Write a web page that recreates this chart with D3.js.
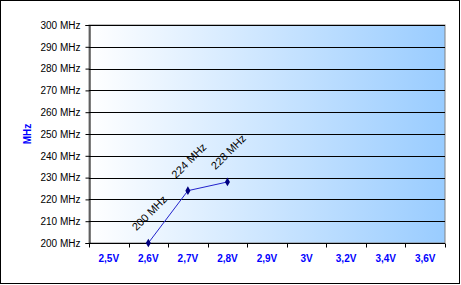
<!DOCTYPE html>
<html>
<head>
<meta charset="utf-8">
<script src="https://cdn.jsdelivr.net/npm/d3@7"></script>
<style>
  body { margin: 0; background: #fff; }
  svg { display: block; font-family: "Liberation Sans", Arial, sans-serif; }
</style>
</head>
<body>
<div id="chart"></div>
<script>
var width = 461,
  height = 285;

// data
var voltages = ["2,5V", "2,6V", "2,7V", "2,8V", "2,9V", "3V", "3,2V", "3,4V", "3,6V"];
var pointVolts = ["2,6V", "2,7V", "2,8V"];
var pointMHz = [200, 224, 228];
var yTicks = [200, 210, 220, 230, 240, 250, 260, 270, 280, 290, 300];

var plot = { left: 89, right: 445, top: 25, bottom: 243 };

var svg = d3.select("#chart").append("svg")
  .attr("width", width)
  .attr("height", height);

// outer frame
svg.append("rect")
  .attr("x", 0.5).attr("y", 0.5)
  .attr("width", 459).attr("height", 283)
  .attr("fill", "#fff")
  .attr("stroke", "#000")
  .attr("stroke-width", 1);

// gradient for plot area
var grad = svg.append("defs").append("linearGradient")
  .attr("id", "bg")
  .attr("x1", "0%").attr("x2", "100%")
  .attr("y1", "0%").attr("y2", "0%");
grad.append("stop").attr("offset", "0%").attr("stop-color", "#ffffff");
grad.append("stop").attr("offset", "100%").attr("stop-color", "#99ccff");

// scales
var x = d3.scaleBand()
  .domain(voltages)
  .range([plot.left, plot.right])
  .padding(0);

var y = d3.scaleLinear()
  .domain([200, 300])
  .range([plot.bottom, plot.top]);

// plot background
svg.append("rect")
  .attr("x", plot.left).attr("y", plot.top)
  .attr("width", plot.right - plot.left)
  .attr("height", plot.bottom - plot.top)
  .attr("fill", "url(#bg)")
  .attr("stroke", "#808080")
  .attr("stroke-width", 1);

// gridlines
svg.append("g")
  .selectAll("line")
  .data(yTicks)
  .enter()
  .append("line")
  .attr("x1", plot.left)
  .attr("x2", plot.right)
  .attr("y1", function (d) { return Math.round(y(d)) + 0.5; })
  .attr("y2", function (d) { return Math.round(y(d)) + 0.5; })
  .attr("stroke", "#000")
  .attr("stroke-width", 1);

// y axis
var yAxis = svg.append("g")
  .attr("transform", "translate(" + (plot.left + 0.5) + ",0)")
  .call(d3.axisLeft(y)
    .tickValues(yTicks)
    .tickSize(4)
    .tickPadding(5)
    .tickFormat(function (d) { return d + " MHz"; }));
yAxis.selectAll("text")
  .attr("font-size", "10px")
  .attr("font-family", "'Liberation Sans', Arial, sans-serif")
  .attr("fill", "#000");
yAxis.selectAll("line, path").attr("stroke", "#000");

// x axis: labels centered in each band, ticks at band edges
var xAxis = svg.append("g")
  .attr("transform", "translate(0," + (plot.bottom + 0.5) + ")");
xAxis.append("line")
  .attr("x1", plot.left).attr("x2", plot.right)
  .attr("stroke", "#000");
xAxis.selectAll("line.tick")
  .data(voltages.concat([null]))
  .enter()
  .append("line")
  .attr("class", "tick")
  .attr("x1", function (d, i) { return Math.round(plot.left + i * x.bandwidth()) + 0.5; })
  .attr("x2", function (d, i) { return Math.round(plot.left + i * x.bandwidth()) + 0.5; })
  .attr("y1", 0).attr("y2", 4)
  .attr("stroke", "#000");
xAxis.selectAll("text")
  .data(voltages)
  .enter()
  .append("text")
  .attr("x", function (d) { return x(d) + x.bandwidth() / 2; })
  .attr("y", 15)
  .attr("dy", "0.35em")
  .attr("text-anchor", "middle")
  .attr("font-size", "10px")
  .attr("font-weight", "bold")
  .attr("fill", "#0000ff")
  .text(function (d) { return d; });

// y axis title
svg.append("text")
  .attr("transform", "translate(31,134) rotate(-90)")
  .attr("text-anchor", "middle")
  .attr("font-size", "10px")
  .attr("font-weight", "bold")
  .attr("fill", "#0000ff")
  .text("MHz");

// series
var points = pointVolts.map(function (v, i) {
  return { v: v, mhz: pointMHz[i] };
});

var line = d3.line()
  .x(function (d) { return x(d.v) + x.bandwidth() / 2; })
  .y(function (d) { return y(d.mhz); });

svg.append("path")
  .datum(points)
  .attr("d", line)
  .attr("fill", "none")
  .attr("stroke", "#2222cc")
  .attr("stroke-width", 1);

svg.selectAll("path.marker")
  .data(points)
  .enter()
  .append("path")
  .attr("class", "marker")
  .attr("d", d3.symbol().type(d3.symbolDiamond).size(22))
  .attr("transform", function (d) {
    return "translate(" + (x(d.v) + x.bandwidth() / 2) + "," + y(d.mhz) + ")";
  })
  .attr("fill", "#000080");

// data labels
svg.selectAll("text.label")
  .data(points)
  .enter()
  .append("text")
  .attr("class", "label")
  .attr("transform", function (d) {
    return "translate(" + (x(d.v) + x.bandwidth() / 2 + 1) + "," + (y(d.mhz) - 30) + ") rotate(-45)";
  })
  .attr("text-anchor", "middle")
  .attr("dy", "0.35em")
  .attr("font-size", "11px")
  .attr("fill", "#000")
  .text(function (d) { return d.mhz + " MHz"; });
</script>
</body>
</html>
